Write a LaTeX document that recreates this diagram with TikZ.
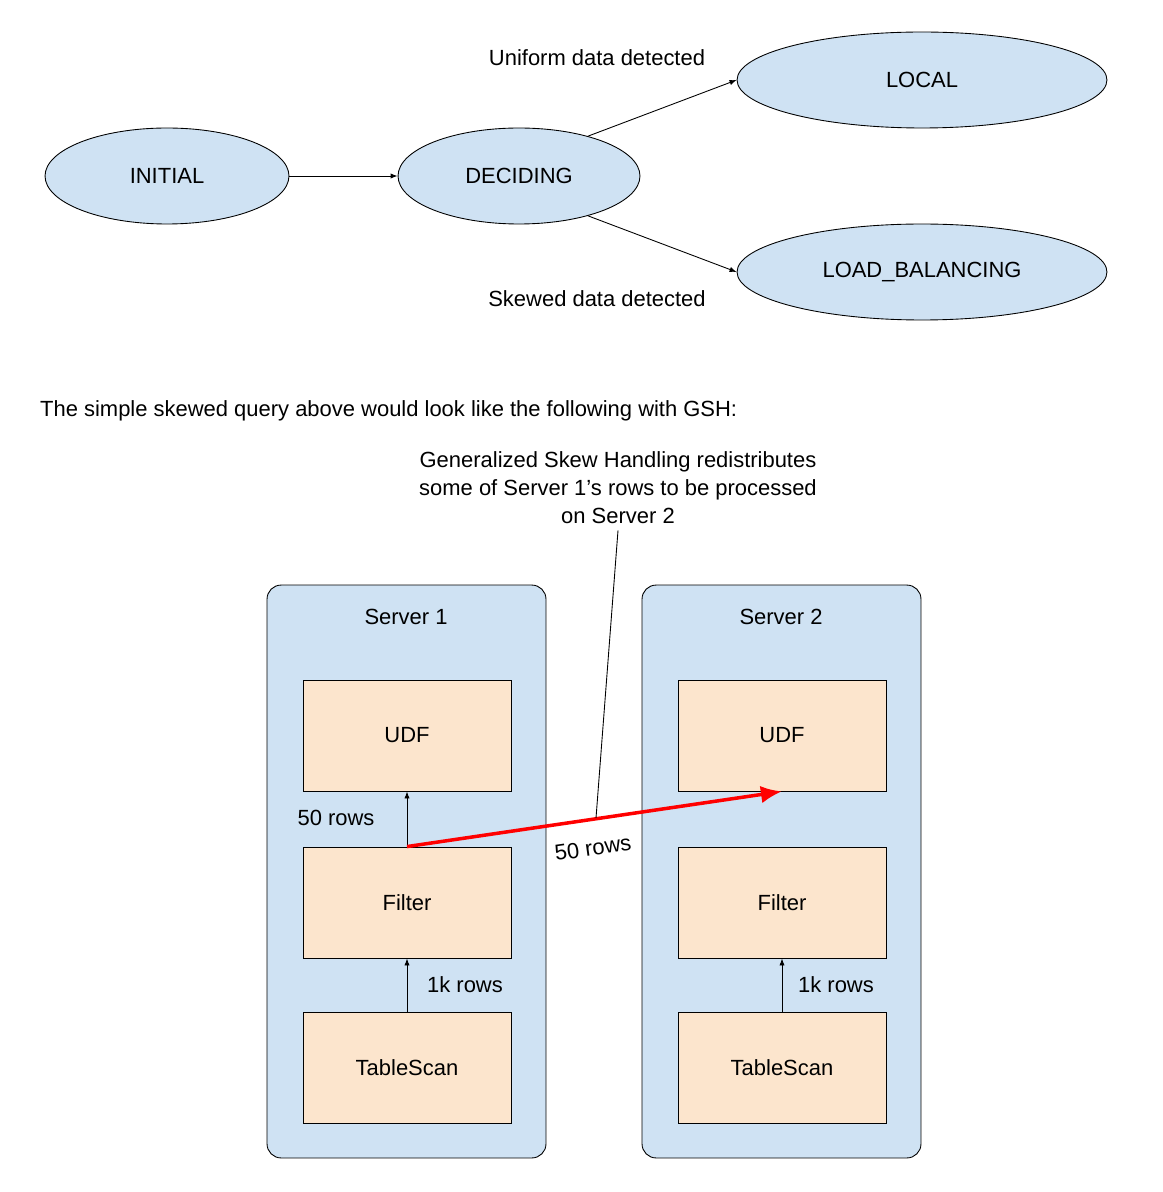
\documentclass[tikz,border=0pt]{standalone}
\usepackage{fontspec}
\setmainfont{Liberation Sans}
\usetikzlibrary{arrows.meta,positioning,shapes.geometric}
\definecolor{stateblue}{HTML}{CFE2F3}
\definecolor{opfill}{HTML}{FCE5CD}
\definecolor{skewred}{HTML}{FF0000}

\begin{document}
\begin{tikzpicture}[x=0.02cm,y=-0.02cm,
  every node/.style={font=\fontsize{12.5}{16}\selectfont},
  state/.style={ellipse, draw=black, fill=stateblue, line width=0.5pt},
  server/.style={rectangle, rounded corners=8pt, draw=black, fill=stateblue, line width=0.5pt, minimum width=5.58cm, minimum height=11.46cm},
  op/.style={rectangle, draw=black, fill=opfill, line width=0.5pt, minimum width=4.16cm, minimum height=2.22cm},
  flow/.style={-{Latex[length=4pt,width=3pt]}, line width=0.5pt},
]
\useasboundingbox (0,0) rectangle (1162,1192);

% State machine
\node[state, minimum width=4.88cm, minimum height=1.92cm] (initial) at (167,176) {INITIAL};
\node[state, minimum width=4.84cm, minimum height=1.92cm] (deciding) at (519,176) {DECIDING};
\node[state, minimum width=7.4cm, minimum height=1.92cm] (local) at (922,80) {LOCAL};
\node[state, minimum width=7.4cm, minimum height=1.92cm] (lb) at (922,272) {LOAD\_BALANCING};

\draw[flow] (initial) -- (deciding);
\draw[flow] (deciding.30) -- (local.west);
\draw[flow] (deciding.-30) -- (lb.west);
\node (uniform) at (597,58) {Uniform data detected};
\node (skewed) at (597,299) {Skewed data detected};

\node[anchor=west] (caption) at (34,411) {The simple skewed query above would look like the following with GSH:};

% Servers
\node[server] (srv1) at (406.5,871.5) {};
\node[server] (srv2) at (781.5,871.5) {};
\node (srv1title) at (406,617) {Server 1};
\node (srv2title) at (781,617) {Server 2};

\node[op] (udf1) at (407,735.5) {UDF};
\node[op] (filter1) at (407,902.5) {Filter};
\node[op] (scan1) at (407,1067.5) {TableScan};
\node[op] (udf2) at (782,735.5) {UDF};
\node[op] (filter2) at (782,902.5) {Filter};
\node[op] (scan2) at (782,1067.5) {TableScan};

\draw[flow] (filter1) -- (udf1);
\draw[flow] (scan1) -- (filter1);
\draw[flow] (scan2) -- (filter2);
\node (rows50a) at (336,818) {50 rows};
\node (rows1ka) at (465,985) {1k rows};
\node (rows1kb) at (836,985) {1k rows};

% Skew redistribution
\draw[-{Latex[length=12pt,width=10pt]}, skewred, line width=2pt] (filter1.north) -- (udf2.south);
\node[rotate=8] (rows50b) at (593,848) {50 rows};

\node[align=center] (note) at (618,488) {Generalized Skew Handling redistributes\\some of Server 1’s rows to be processed\\on Server 2};
\coordinate (notetip) at (596,818);
\draw[line width=0.5pt] (note.south) -- (notetip);
\end{tikzpicture}
\end{document}
